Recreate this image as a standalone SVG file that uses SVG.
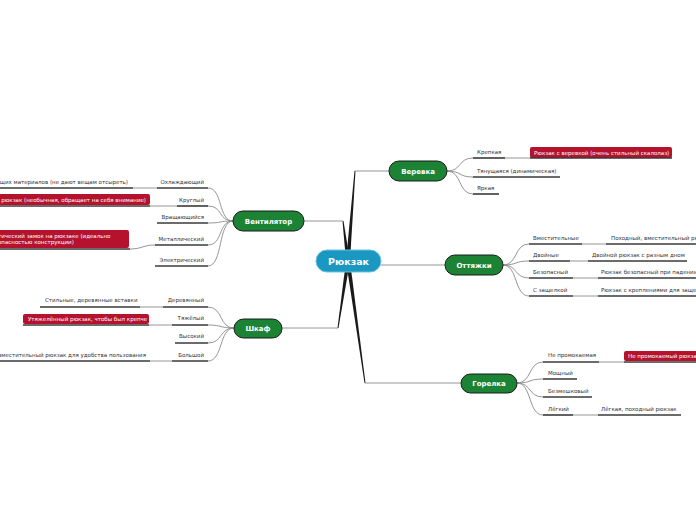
<svg xmlns="http://www.w3.org/2000/svg" width="696" height="520" viewBox="0 0 696 520">
<style>
.t{font-family:"DejaVu Sans",Verdana,sans-serif;font-size:5.5px;fill:#333}
.e{text-anchor:end}
.w{fill:#fff}
.ul{stroke:#3a3a3a;stroke-width:1.6;fill:none}
.g{stroke:#8a8a8a;stroke-width:0.9;fill:none}
.red{fill:#b5122d}
.main rect{fill:#1c8334;stroke:#1b1b1b;stroke-width:1}
.main text{font-family:"DejaVu Sans",Verdana,sans-serif;font-size:7px;font-weight:bold;fill:#fff;text-anchor:middle}
.taper{fill:#1a1a1a}
</style>
<rect width="696" height="520" fill="#fff"/>
<g id="connectors">
  <polygon class="taper" points="346,261 350,261 355.5,171 354.5,171"/>
  <polygon class="taper" points="346,261 350,261 343.5,221 342.5,221"/>
  <polygon class="taper" points="346,261 350,261 338.5,328 337.5,328"/>
  <polygon class="taper" points="346,261 350,261 365.5,383 364.5,383"/>
  <path class="g" d="M355 171H389M304 221H343M282 328H338M365 383H461M381 265H445"/>
  <!-- Веревка -->
  <path class="g" d="M447 171C462 171 458 158 473 158M447 171C462 171 458 177 473 177M447 171C462 171 458 194 473 194"/>
  <!-- Оттяжки -->
  <path class="g" d="M503 265C518 265 514 244 529 244M503 265C518 265 514 261 529 261M503 265C518 265 514 278 529 278M503 265C518 265 514 296 529 296"/>
  <!-- Горелка -->
  <path class="g" d="M517 383C532 383 528 362 543 362M517 383C532 383 528 379 543 379M517 383C532 383 528 397 543 397M517 383C532 383 528 415 543 415"/>
  <!-- Вентилятор -->
  <path class="g" d="M233 221C218 221 223 188 208 188M233 221C218 221 223 206 208 206M233 221C218 221 223 223 208 223M233 221C218 221 223 245 208 245M233 221C218 221 223 266 208 266"/>
  <!-- Шкаф -->
  <path class="g" d="M234 328C219 328 223 307 208 307M234 328C219 328 223 325 208 325M234 328C219 328 223 343 208 343M234 328C219 328 223 361 208 361"/>
  <!-- leaf-to-detail -->
  <path class="g" d="M505 158H530M582 244H606M570 261H588M573 278H598M573 296H598M599 362H624M573 415H598M133 188H157M150 206H177M130 249C142 249 143 245 155 245M140 307H163M149 325H172M150 361H172"/>
</g>
<g id="n-root">
  <rect x="316" y="250" width="65" height="22" rx="11" fill="#1b98c2" stroke="#6cc0dc" stroke-width="1"/>
  <text x="348.5" y="264.5" font-family="DejaVu Sans,Verdana,sans-serif" font-size="9.5" font-weight="bold" fill="#fff" text-anchor="middle">Рюкзак</text>
</g>
<g id="n-verevka" class="main"><rect x="389" y="161" width="58" height="20" rx="10"/><text x="418" y="173.5">Веревка</text></g>
<g id="n-ventilyator" class="main"><rect x="233" y="211" width="71" height="20" rx="10"/><text x="268.5" y="223.5">Вентилятор</text></g>
<g id="n-ottyazhki" class="main"><rect x="445" y="255" width="58" height="20" rx="10"/><text x="474" y="267.5">Оттяжки</text></g>
<g id="n-shkaf" class="main"><rect x="234" y="319" width="48" height="19" rx="9.5"/><text x="258" y="331">Шкаф</text></g>
<g id="n-gorelka" class="main"><rect x="461" y="374" width="56" height="19" rx="9.5"/><text x="489" y="386">Горелка</text></g>

<g id="l-krepkaya"><text class="t" x="477" y="154">Крепкая</text><path class="ul" d="M473 158H505"/></g>
<g id="d-krepkaya"><rect class="red" x="530" y="147" width="142" height="11" rx="2"/><text class="t w" x="534" y="154.5">Рюкзак с веревкой (очень стильный скалолаз)</text><path class="ul" d="M530 158H672"/></g>
<g id="l-tyan"><text class="t" x="477" y="173">Тянущаяся (динамическая)</text><path class="ul" d="M473 177H560"/></g>
<g id="l-yarkaya"><text class="t" x="477" y="190">Яркая</text><path class="ul" d="M473 194H499"/></g>

<g id="l-vmest"><text class="t" x="533" y="240">Вместительные</text><path class="ul" d="M529 244H582"/></g>
<g id="d-vmest"><text class="t" x="611" y="240">Походный, вместительный рюкзак</text><path class="ul" d="M606 244H700"/></g>
<g id="l-dvoinye"><text class="t" x="533" y="257">Двойные</text><path class="ul" d="M529 261H570"/></g>
<g id="d-dvoinye"><text class="t" x="592" y="257">Двойной рюкзак с разным дном</text><path class="ul" d="M588 261H687"/></g>
<g id="l-bezop"><text class="t" x="533" y="274">Безопасный</text><path class="ul" d="M529 278H573"/></g>
<g id="d-bezop"><text class="t" x="601" y="274">Рюкзак безопасный при падении</text><path class="ul" d="M598 278H700"/></g>
<g id="l-zasch"><text class="t" x="533" y="292">С защелкой</text><path class="ul" d="M529 296H573"/></g>
<g id="d-zasch"><text class="t" x="601" y="292">Рюкзак с креплениями для защелки</text><path class="ul" d="M598 296H700"/></g>

<g id="l-nepromok"><text class="t" x="548" y="357">Не промокаемая</text><path class="ul" d="M543 362H599"/></g>
<g id="d-nepromok"><rect class="red" x="624" y="351" width="80" height="10" rx="2"/><text class="t w" x="628" y="358">Не промокаемый рюкзак</text><path class="ul" d="M624 362H700"/></g>
<g id="l-moshny"><text class="t" x="548" y="375">Мощный</text><path class="ul" d="M543 379H577"/></g>
<g id="l-bezmesh"><text class="t" x="548" y="393">Безмешковый</text><path class="ul" d="M543 397H592"/></g>
<g id="l-legkiy"><text class="t" x="548" y="411">Лёгкий</text><path class="ul" d="M543 415H573"/></g>
<g id="d-legkiy"><text class="t" x="601" y="411">Лёгкая, походный рюкзак</text><path class="ul" d="M598 415H681"/></g>

<g id="l-ohl"><text class="t e" x="204" y="184">Охлаждающий</text><path class="ul" d="M157 188H208"/></g>
<g id="d-ohl"><text class="t e" x="128" y="184">ающих материалов (не дают вещам отсыреть)</text><path class="ul" d="M-5 188H133"/></g>
<g id="l-krugly"><text class="t e" x="204" y="202">Круглый</text><path class="ul" d="M177 206H208"/></g>
<g id="d-krugly"><rect class="red" x="-5" y="194" width="155" height="11" rx="2"/><text class="t w e" x="146" y="201.5">рюкзак (необычная, обращает на себя внимание)</text><path class="ul" d="M-5 206H150"/></g>
<g id="l-vrasch"><text class="t e" x="204" y="219">Вращающийся</text><path class="ul" d="M157 223H208"/></g>
<g id="l-metall"><text class="t e" x="204" y="241">Металлический</text><path class="ul" d="M155 245H208"/></g>
<g id="d-metall"><rect class="red" x="-5" y="230" width="134" height="18" rx="2"/><text class="t w" x="-2" y="237.5">тический замок на рюкзаке (идеально</text><text class="t w" x="-2" y="243.5">опасностью конструкции)</text><path class="ul" d="M-5 249H130"/></g>
<g id="l-elektr"><text class="t e" x="204" y="262">Электрический</text><path class="ul" d="M155 266H208"/></g>

<g id="l-derev"><text class="t e" x="204" y="302">Деревянный</text><path class="ul" d="M163 307H208"/></g>
<g id="d-derev"><text class="t" x="45" y="302">Стильные, деревянные вставки</text><path class="ul" d="M40 307H140"/></g>
<g id="l-tyazh"><text class="t e" x="204" y="320">Тяжёлый</text><path class="ul" d="M172 325H208"/></g>
<g id="d-tyazh"><rect class="red" x="23" y="314" width="126" height="10" rx="2"/><text class="t w" x="28" y="321">Утяжелённый рюкзак, чтобы был крепче</text><path class="ul" d="M23 325H149"/></g>
<g id="l-vysok"><text class="t e" x="204" y="338">Высокий</text><path class="ul" d="M175 343H208"/></g>
<g id="l-bolsh"><text class="t e" x="204" y="357">Большой</text><path class="ul" d="M172 361H208"/></g>
<g id="d-bolsh"><text class="t e" x="146" y="357">вместительный рюкзак для удобства пользования</text><path class="ul" d="M-5 361H150"/></g>
</svg>
